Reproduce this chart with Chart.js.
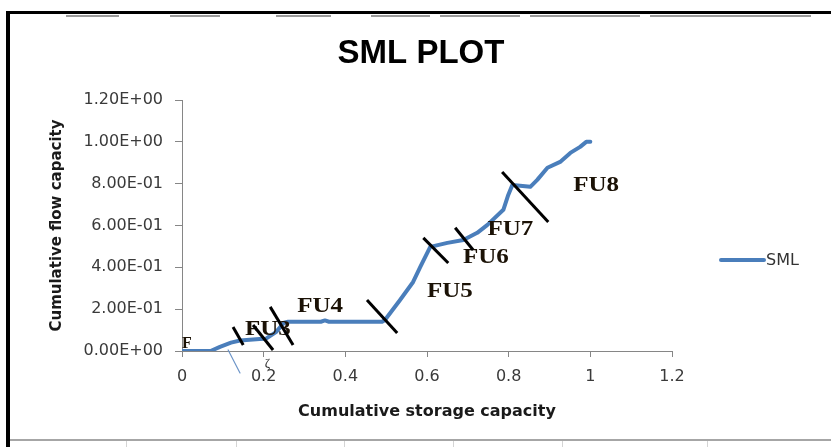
<!DOCTYPE html>
<html>
<head>
<meta charset="utf-8">
<script src="https://cdn.jsdelivr.net/npm/chart.js@4.4.1/dist/chart.umd.min.js"></script>
<style>
  html, body { margin: 0; padding: 0; background: #fff; }
  #wrap { width: 831px; height: 447px; position: relative; }
</style>
</head>
<body>
<div id="wrap"><canvas id="cntSML_Chart" width="831" height="447"></canvas></div>
<script>
  // series (cumulative storage vs cumulative flow)
  const smlX = [0, 0.07, 0.093, 0.12, 0.142, 0.19, 0.205, 0.23, 0.25, 0.26, 0.34, 0.35, 0.36, 0.49,
                0.497, 0.534, 0.566, 0.583, 0.608, 0.65, 0.689, 0.723, 0.748, 0.787, 0.799, 0.809,
                0.853, 0.87, 0.895, 0.926, 0.951, 0.975, 0.99, 1.0];
  const smlY = [0, 0, 0.02, 0.04, 0.05, 0.057, 0.058, 0.09, 0.135, 0.14, 0.14, 0.146, 0.14, 0.14,
                0.148, 0.244, 0.33, 0.4, 0.498, 0.517, 0.531, 0.565, 0.603, 0.675, 0.746, 0.794,
                0.785, 0.818, 0.876, 0.904, 0.947, 0.976, 1.0, 1.0];
  const xTicks = [0, 0.2, 0.4, 0.6, 0.8, 1, 1.2];
  const yTicks = [0, 0.2, 0.4, 0.6, 0.8, 1.0, 1.2];

  // flow unit labels and the hand drawn dividers (data coords)
  const fuLabels = ['F', 'FU3', 'FU4', 'FU5', 'FU6', 'FU7', 'FU8'];
  const fuLabelX = [0.0, 0.154, 0.282, 0.600, 0.688, 0.748, 0.958];
  const fuLabelY = [0.014, 0.077, 0.187, 0.258, 0.423, 0.555, 0.766];
  const cutX1 = [0.125, 0.174, 0.216, 0.453, 0.591, 0.669, 0.784];
  const cutY1 = [0.115, 0.124, 0.211, 0.244, 0.541, 0.589, 0.856];
  const cutX2 = [0.150, 0.223, 0.272, 0.527, 0.652, 0.713, 0.897];
  const cutY2 = [0.029, 0.005, 0.029, 0.086, 0.421, 0.483, 0.617];

  const azul = '#4a7ebb';
  const gris = '#868686';

  function fmtExp(v) {
    var p = Number(v).toExponential(2).toUpperCase().split('E');
    var e = p[1];
    var signo = e[0] === '-' ? '-' : '+';
    var d = e.replace('+', '').replace('-', '');
    if (d.length < 2) d = '0' + d;
    return p[0] + 'E' + signo + d;
  }

  const _puntos = [];
  for (var i = 0; i < smlX.length; i++) _puntos.push({ x: smlX[i], y: smlY[i] });

  // page frame, title, legend and the annotations of the scan
  const adornos = {
    id: 'adornos',
    beforeDraw(chart) {
      const ctx = chart.ctx;
      ctx.save();
      ctx.fillStyle = '#fff';
      ctx.fillRect(0, 0, chart.width, chart.height);
      // cut off text above the frame
      ctx.strokeStyle = '#9a9a9a';
      ctx.lineWidth = 2;
      [[66, 119], [170, 220], [276, 331], [371, 430], [440, 520], [530, 640], [650, 811]].forEach(function (s) {
        ctx.beginPath(); ctx.moveTo(s[0], 16); ctx.lineTo(s[1], 16); ctx.stroke();
      });
      // frame
      ctx.fillStyle = '#000';
      ctx.fillRect(6, 11, 825, 3);
      ctx.fillRect(6, 11, 4, 436);
      // spreadsheet cells at the bottom
      ctx.fillStyle = '#a6a6a6';
      ctx.fillRect(10, 439, 821, 2);
      ctx.strokeStyle = '#d4d4d4';
      ctx.lineWidth = 1;
      [126, 236, 344, 453, 562, 707].forEach(function (x) {
        ctx.beginPath(); ctx.moveTo(x + 0.5, 441); ctx.lineTo(x + 0.5, 447); ctx.stroke();
      });
      ctx.restore();
    },
    afterDraw(chart) {
      const ctx = chart.ctx;
      const sx = chart.scales.x, sy = chart.scales.y;
      ctx.save();
      // title
      ctx.fillStyle = '#000';
      ctx.font = 'bold 33px "Liberation Sans"';
      ctx.textAlign = 'center';
      ctx.textBaseline = 'alphabetic';
      ctx.fillText('SML PLOT', 421, 63);
      // legend
      ctx.strokeStyle = azul;
      ctx.lineWidth = 4;
      ctx.lineCap = 'round';
      ctx.beginPath(); ctx.moveTo(721, 260); ctx.lineTo(764, 260); ctx.stroke();
      ctx.fillStyle = '#333';
      ctx.font = '16px "DejaVu Sans"';
      ctx.textAlign = 'left';
      ctx.textBaseline = 'middle';
      ctx.fillText(chart.data.datasets[0].label, 766, 261);
      // stray pen marks below the axis
      ctx.strokeStyle = '#6d95c8';
      ctx.lineWidth = 1.2;
      ctx.beginPath();
      ctx.moveTo(sx.getPixelForValue(0.113), sy.getPixelForValue(0.005));
      ctx.lineTo(sx.getPixelForValue(0.142), sy.getPixelForValue(-0.105));
      ctx.stroke();
      ctx.fillStyle = '#333';
      ctx.font = '13px "Liberation Serif"';
      ctx.textBaseline = 'alphabetic';
      ctx.fillText('ζ', sx.getPixelForValue(0.2) + 1, sy.getPixelForValue(0) + 16);
      // FU labels
      ctx.fillStyle = '#1b1206';
      ctx.font = 'bold 20px "Liberation Serif"';
      for (var k = 0; k < fuLabels.length; k++) {
        ctx.save();
        ctx.translate(sx.getPixelForValue(fuLabelX[k]), sy.getPixelForValue(fuLabelY[k]));
        ctx.scale(k === 0 ? 0.8 : 1.25, k === 0 ? 0.8 : 1);
        ctx.fillText(fuLabels[k], 0, 0);
        ctx.restore();
      }
      // dividers
      ctx.strokeStyle = '#000';
      ctx.lineWidth = 3;
      ctx.lineCap = 'butt';
      for (var j = 0; j < cutX1.length; j++) {
        ctx.beginPath();
        ctx.moveTo(sx.getPixelForValue(cutX1[j]), sy.getPixelForValue(cutY1[j]));
        ctx.lineTo(sx.getPixelForValue(cutX2[j]), sy.getPixelForValue(cutY2[j]));
        ctx.stroke();
      }
      ctx.restore();
    }
  };

  var config = {
    type: 'line',
    data: {
      datasets: [{
        label: 'SML',
        data: _puntos,
        borderColor: azul,
        backgroundColor: azul,
        borderWidth: 4,
        pointRadius: 0,
        tension: 0,
        borderJoinStyle: 'round',
        borderCapStyle: 'round'
      }]
    },
    options: {
      responsive: false,
      animation: false,
      layout: { padding: { top: 100, right: 159, bottom: 0, left: 0 } },
      plugins: {
        legend: { display: false },
        title: { display: false },
        tooltip: { enabled: false }
      },
      scales: {
        x: {
          type: 'linear',
          min: 0,
          max: 1.2,
          afterFit: function (s) { s.height = 96; },
          afterBuildTicks: function (s) { s.ticks = xTicks.map(function (v) { return { value: v }; }); },
          border: { display: true, color: gris, width: 1 },
          grid: { display: true, drawOnChartArea: false, drawTicks: true, tickLength: 6, color: gris },
          ticks: {
            color: '#3a3a3a',
            padding: 10,
            maxRotation: 0,
            font: { family: 'DejaVu Sans', size: 16 },
            callback: function (v) { return String(parseFloat(Number(v).toFixed(1))); }
          },
          title: {
            display: true,
            text: 'Cumulative storage capacity',
            color: '#1a1a1a',
            font: { family: 'DejaVu Sans', size: 16, weight: 'bold' },
            padding: { top: 0, bottom: 26 }
          }
        },
        y: {
          min: 0,
          max: 1.2,
          afterFit: function (s) { s.width = 182; },
          afterBuildTicks: function (s) { s.ticks = yTicks.map(function (v) { return { value: v }; }); },
          border: { display: true, color: gris, width: 1 },
          grid: { display: true, drawOnChartArea: false, drawTicks: true, tickLength: 7, color: gris },
          ticks: {
            color: '#3a3a3a',
            padding: 12,
            font: { family: 'DejaVu Sans', size: 16 },
            callback: function (v) { return fmtExp(v); }
          },
          title: {
            display: true,
            text: 'Cumulative flow capacity',
            color: '#1a1a1a',
            font: { family: 'DejaVu Sans', size: 15, weight: 'bold' },
            padding: { top: 48, bottom: 0 }
          }
        }
      }
    },
    plugins: [adornos]
  };

  var ctx = document.getElementById('cntSML_Chart').getContext('2d');
  window.graficaSML = new Chart(ctx, config);
</script>
</body>
</html>
